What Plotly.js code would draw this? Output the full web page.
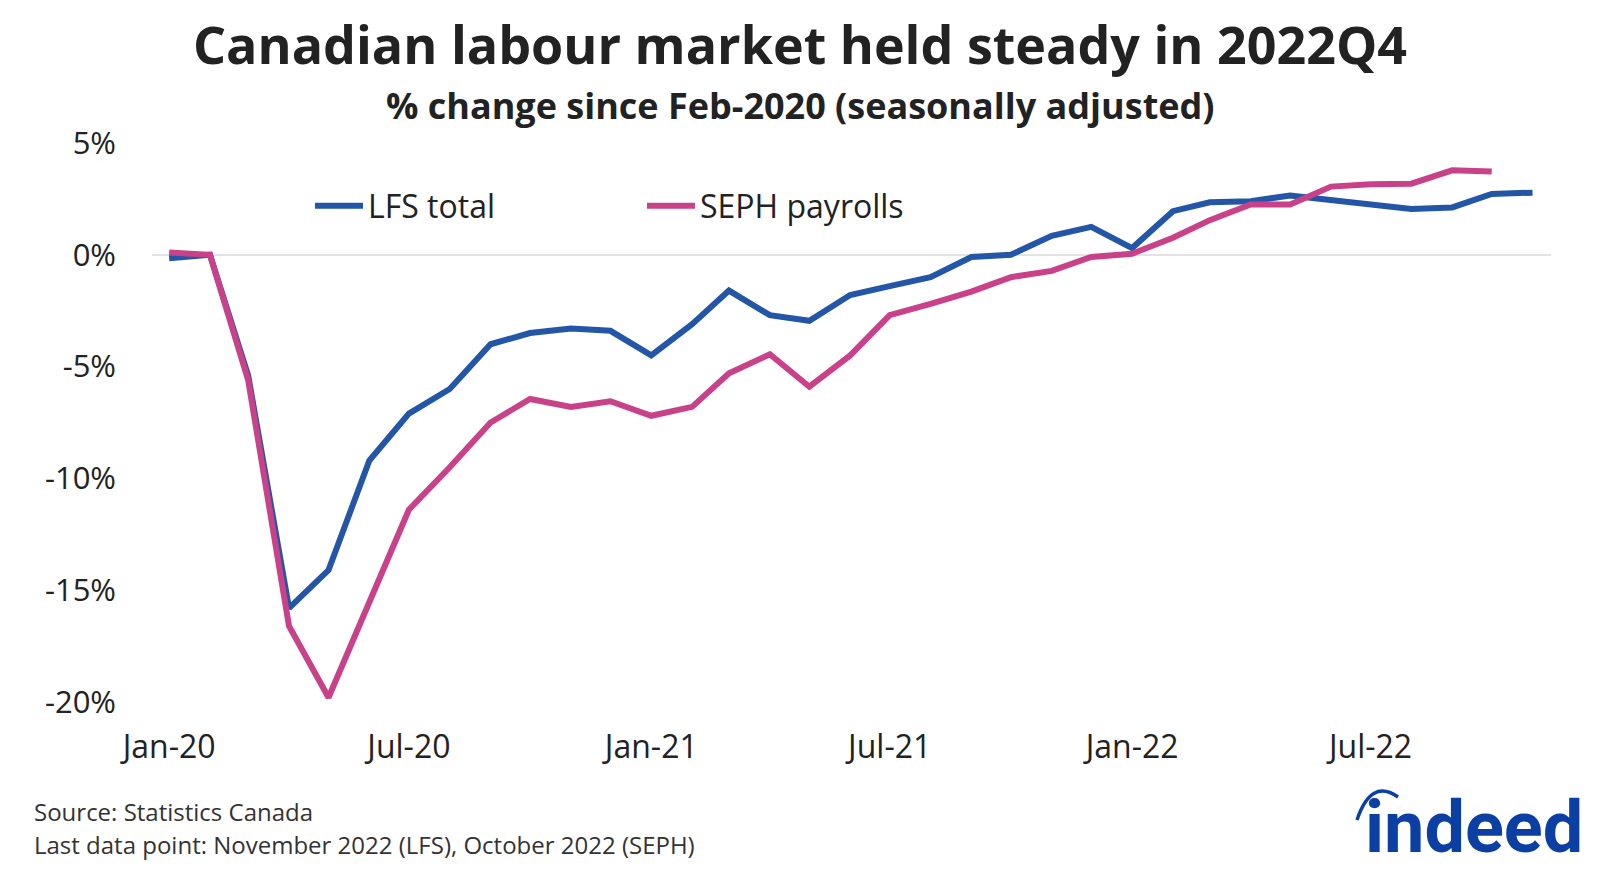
<!DOCTYPE html>
<html>
<head>
<meta charset="utf-8">
<script src="https://cdn.plot.ly/plotly-3.0.1.min.js"></script>
<style>
  html, body { margin: 0; padding: 0; background: #fff; }
  #chart { width: 1600px; height: 874px; }
</style>
</head>
<body>
<div id="chart"></div>
<script>
// months, Jan-2020 to Nov-2022
var months = ['2020-01','2020-02','2020-03','2020-04','2020-05','2020-06','2020-07','2020-08','2020-09','2020-10','2020-11','2020-12',
              '2021-01','2021-02','2021-03','2021-04','2021-05','2021-06','2021-07','2021-08','2021-09','2021-10','2021-11','2021-12',
              '2022-01','2022-02','2022-03','2022-04','2022-05','2022-06','2022-07','2022-08','2022-09','2022-10','2022-11'];

// LFS total employment, % change since Feb-2020 (to Nov-2022)
var lfsTotal = [-0.15, 0, -5.4, -15.8, -14.1, -9.2, -7.1, -6.0, -4.0, -3.5, -3.3, -3.4,
                -4.5, -3.1, -1.6, -2.7, -2.95, -1.8, -1.4, -1.0, -0.1, 0.0, 0.85, 1.25,
                0.3, 1.95, 2.35, 2.4, 2.65, 2.45, 2.3, 2.05, 2.12, 2.72, 2.78];

// SEPH payroll employment (to Oct-2022)
var sephPayrolls = [0.1, 0, -5.6, -16.6, -19.8, -15.6, -11.4, -9.5, -7.5, -6.45, -6.8, -6.55,
                    -7.2, -6.8, -5.3, -4.45, -5.9, -4.5, -2.7, -2.2, -1.65, -1.0, -0.72, -0.1,
                    0.05, 0.76, 1.55, 2.25, 2.25, 3.05, 3.15, 3.18, 3.78, 3.72];

var yTicks = [-20, -15, -10, -5, 0, 5];

var blue = '#2356a6';
var pink = '#c94189';
var logoBlue = '#0b3fa3';
var font = 'Open Sans, Noto Sans, sans-serif';

var lfs = {
    x: months, y: lfsTotal, name: 'LFS total',
    type: 'scatter', mode: 'lines',
    line: {color: blue, width: 6}
};
var seph = {
    x: months.slice(0, sephPayrolls.length), y: sephPayrolls, name: 'SEPH payrolls',
    type: 'scatter', mode: 'lines',
    line: {color: pink, width: 6}
};

// plot area in pixels: left 152, right 1551, top 143, bottom 702
var L = 152, R = 1551, T = 143, B = 702;
function px(p) { return (p - L) / (R - L); }
function py(p) { return (B - p) / (B - T); }

var layout = {
    width: 1600, height: 874,
    margin: {l: L, r: 1600 - R, t: T, b: 874 - B},
    paper_bgcolor: '#fff', plot_bgcolor: '#fff',
    font: {family: font, color: '#222'},
    showlegend: true,
    title: {
        text: '<b>Canadian labour market held steady in 2022Q4</b>',
        font: {family: font, size: 52, color: '#222'},
        x: 0.5, xanchor: 'center',
        yref: 'container', y: 1 - 46 / 874, yanchor: 'middle'
    },
    legend: {
        orientation: 'h',
        x: px(310), xanchor: 'left',
        y: py(206), yanchor: 'middle',
        font: {family: font, size: 32, color: '#222'},
        entrywidth: 269, entrywidthmode: 'pixels',
        itemwidth: 48,
        bgcolor: 'rgba(0,0,0,0)'
    },
    xaxis: {
        type: 'date',
        range: ['2019-12-19', '2022-11-15'],
        dtick: 'M6', tick0: '2020-01-01',
        tickformat: '%b-%y',
        showgrid: false, zeroline: false, showline: false,
        ticks: '', ticklabelstandoff: 23,
        tickfont: {family: font, size: 32, color: '#222'}
    },
    yaxis: {
        range: [-20, 5],
        tickvals: yTicks,
        ticktext: yTicks.map(function (v) { return v + '%'; }),
        showgrid: false, showline: false,
        zeroline: true, zerolinecolor: '#e3e3e3', zerolinewidth: 1.5,
        ticks: '', ticklabelstandoff: 35,
        tickfont: {family: font, size: 31, color: '#222'}
    },
    annotations: [
        {
            text: '<b>% change since Feb-2020 (seasonally adjusted)</b>',
            xref: 'paper', yref: 'paper', x: px(800), y: py(105),
            xanchor: 'center', yanchor: 'middle', showarrow: false,
            font: {family: font, size: 36, color: '#222'}
        },
        {
            text: 'Source: Statistics Canada',
            xref: 'paper', yref: 'paper', x: px(32), y: py(811),
            xanchor: 'left', yanchor: 'middle', showarrow: false,
            font: {family: font, size: 24, color: '#333'}
        },
        {
            text: 'Last data point: November 2022 (LFS), October 2022 (SEPH)',
            xref: 'paper', yref: 'paper', x: px(32), y: py(844),
            xanchor: 'left', yanchor: 'middle', showarrow: false,
            font: {family: font, size: 24, color: '#333'}
        },
        {
            text: '<b>indeed</b>',
            xref: 'paper', yref: 'paper', x: px(1585), y: py(827),
            xanchor: 'right', yanchor: 'middle', showarrow: false,
            font: {family: 'Roboto, Noto Sans, sans-serif', size: 72, color: logoBlue}
        }
    ],
    shapes: [
        {
            // arc over the "i" of the logo
            type: 'path', xref: 'paper', yref: 'paper',
            path: 'M ' + px(1357) + ',' + py(820) + ' Q ' + px(1371) + ',' + py(778) + ' ' + px(1398) + ',' + py(797),
            line: {color: logoBlue, width: 3.5}
        }
    ]
};

Plotly.newPlot('chart', [lfs, seph], layout, {displayModeBar: false, staticPlot: true});
</script>
</body>
</html>
